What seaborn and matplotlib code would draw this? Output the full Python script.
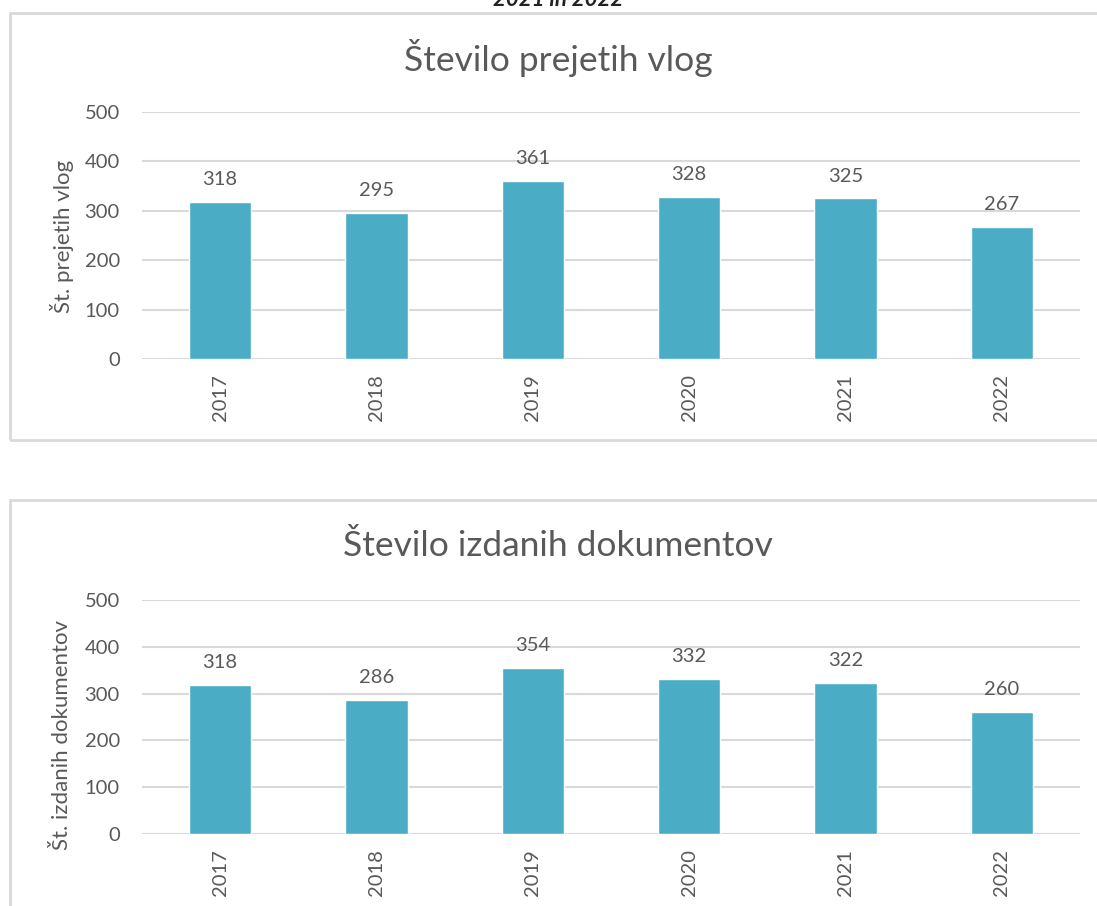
import matplotlib
matplotlib.use("Agg")
import matplotlib.pyplot as plt
import seaborn as sns
import pandas as pd
from matplotlib.patches import Rectangle

years = ["2017", "2018", "2019", "2020", "2021", "2022"]
prejete_vloge = [318, 295, 361, 328, 325, 267]
izdani_dokumenti = [318, 286, 354, 332, 322, 260]
yticks = [0, 100, 200, 300, 400, 500]

sns.set_theme(style="white")
plt.rcParams['font.family'] = ['Lato', 'DejaVu Sans']

BAR = "#4BACC6"
TXT = "#595959"
GRID = "#D9D9D9"

W, H = 1097, 906
fig = plt.figure(figsize=(W / 100, H / 100), dpi=100)


def fx(px):
    return px / W


def fy(py):
    return 1 - py / H


# chart frames
fig.patches.append(Rectangle((fx(10), fy(440)), fx(1100) - fx(10), fy(13) - fy(440),
                             transform=fig.transFigure, fill=False, edgecolor=GRID, linewidth=2))
fig.patches.append(Rectangle((fx(10), fy(930)), fx(1100) - fx(10), fy(500) - fy(930),
                             transform=fig.transFigure, fill=False, edgecolor=GRID, linewidth=2))

# caption at top (partly clipped in the reference)
fig.text(fx(558), fy(6), "2021 in 2022", ha="center", va="baseline", fontsize=16,
         fontstyle="italic", fontweight="bold", color="#222222")

panels = [
    (prejete_vloge, "Število prejetih vlog", "Št. prejetih vlog", 112, 359, 58, 236),
    (izdani_dokumenti, "Število izdanih dokumentov", "Št. izdanih dokumentov", 600, 834, 546, 735),
]

for values, title, ylabel, ptop, pbot, ty, ly in panels:
    ax = fig.add_axes([fx(142), fy(pbot), fx(1080) - fx(142), fy(ptop) - fy(pbot)])
    df = pd.DataFrame({"year": years, "value": values})
    sns.barplot(data=df, x="year", y="value", color=BAR, width=0.4, saturation=1,
                ax=ax, zorder=3)
    ax.set_ylim(0, 500)
    ax.set_yticks(yticks)
    ax.yaxis.grid(True, color=GRID, linewidth=1.5, zorder=0)
    ax.xaxis.grid(False)
    for s in ax.spines.values():
        s.set_visible(False)
    ax.tick_params(axis="both", length=0, labelsize=14.5, labelcolor=TXT)
    ax.tick_params(axis="y", pad=16)
    ax.tick_params(axis="x", pad=11, rotation=90)
    ax.set_xlabel("")
    ax.set_ylabel("")
    for i, v in enumerate(values):
        ax.annotate(str(v), (i, v), xytext=(0, 10), textcoords="offset points",
                    ha="center", va="bottom", fontsize=14.5, color=TXT)
    fig.text(fx(558), fy(ty), title, ha="center", va="center", fontsize=25.5,
             color=TXT, fontweight="normal")
    fig.text(fx(62), fy(ly), ylabel, ha="center", va="center", rotation=90,
             fontsize=16, color=TXT)

fig.savefig("out.png", dpi=100)
